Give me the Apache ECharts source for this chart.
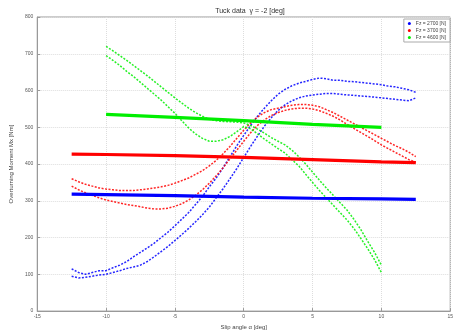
<!DOCTYPE html>
<html><head><meta charset="utf-8">
<script src="https://cdn.jsdelivr.net/npm/echarts@6/dist/echarts.min.js"></script>
<style>html,body{margin:0;padding:0;background:#fff}#c{width:456px;height:335px}</style>
</head><body><div id="c"></div>
<script>
const xTicks = [-15, -10, -5, 0, 5, 10, 15];
const yTicks = [0, 100, 200, 300, 400, 500, 600, 700, 800];
const legendNames = ['Fz = 2700 [N]', 'Fz = 3700 [N]', 'Fz = 4600 [N]'];

const alphaWide = [-12.5,-12,-11.5,-11,-10.5,-10,-9.5,-9,-8.5,-8,-7.5,-7,-6.5,-6,-5.5,-5,-4.5,-4,-3.5,-3,-2.5,-2,-1.5,-1,-0.5,0,0.5,1,1.5,2,2.5,3,3.5,4,4.5,5,5.5,6,6.5,7,7.5,8,8.5,9,9.5,10,10.5,11,11.5,12,12.5];
const alphaNarrow = [-10,-9.5,-9,-8.5,-8,-7.5,-7,-6.5,-6,-5.5,-5,-4.5,-4,-3.5,-3,-2.5,-2,-1.5,-1,-0.5,0,0.5,1,1.5,2,2.5,3,3.5,4,4.5,5,5.5,6,6.5,7,7.5,8,8.5,9,9.5,10];

// Fz = 2700 (blue) loop branches
const blueUp = [115,105,100,105,110,110,118,125,135,148,160,172,185,200,215,232,250,268,290,312,338,362,390,420,450,478,505,530,552,572,590,603,613,620,625,630,634,632,628,628,625,624,622,620,618,616,612,610,606,602,595];
const blueLo = [95,90,92,95,98,100,105,110,116,120,125,135,148,162,176,192,208,225,243,262,283,308,333,360,388,418,448,476,503,526,546,561,572,580,585,588,590,592,592,590,588,587,585,584,582,580,578,576,574,572,580];
// Fz = 3700 (red) loop branches
const redUp = [360,352,345,340,335,332,330,328,328,328,330,332,335,338,342,348,355,362,372,382,395,410,428,448,470,492,512,528,540,548,552,556,560,562,562,560,556,548,540,530,520,510,500,490,480,470,460,450,442,432,420];
const redLo = [340,330,322,315,308,302,298,294,290,287,284,280,278,278,280,285,292,302,315,330,348,368,390,414,438,462,485,505,520,532,540,546,550,552,552,550,545,538,530,520,508,497,486,475,464,452,442,432,422,412,405];
// Fz = 4600 (green) loop branches
const greenUp = [720,708,695,682,668,654,640,625,610,595,580,566,552,540,530,522,518,516,515,514,512,505,495,484,472,462,452,438,420,400,378,356,335,315,295,275,250,222,190,160,125];
const greenLo = [695,682,668,652,638,622,606,590,574,556,538,518,498,482,470,462,462,466,475,488,502,496,482,468,455,442,430,412,395,372,350,328,308,288,268,248,225,198,170,140,105];

// nearly flat series
const flatAlphaBR = [-12.5,-10,-5,0,5,10,12.5];
const blueFlat = [318,317,314,310,307,305,304];
const redFlat = [427,426,423,418,412,406,404];
const flatAlphaG = [-10,-5,0,5,10];
const greenFlat = [535,527,518,508,500];

const BLUE = '#0000ff', RED = '#ff0000', GREEN = '#00ee00';
const pairs = (xs, ys) => xs.map((x, i) => [x, ys[i]]);

function loop(name, color, xs, ys) {
  return { name, type: 'line', data: pairs(xs, ys), showSymbol: false, symbol: 'circle',
    lineStyle: { color, width: 1.5, type: [2, 1.5], opacity: 0.85 }, itemStyle: { color }, z: 2 };
}
function flat(name, color, xs, ys) {
  return { name, type: 'line', data: pairs(xs, ys), showSymbol: false, symbol: 'circle',
    lineStyle: { color, width: 3.2 }, itemStyle: { color }, z: 3 };
}

const chart = echarts.init(document.getElementById('c'));
chart.setOption({
  animation: false,
  backgroundColor: '#fff',
  title: { text: 'Tuck data  γ = -2 [deg]', left: 245, top: 3, textAlign: 'center',
    textStyle: { fontSize: 7, fontWeight: 'normal', color: '#333', fontFamily: 'Liberation Sans' } },
  legend: {
    data: legendNames.map(n => ({ name: n, icon: 'circle' })),
    right: 6, top: 19, orient: 'vertical', itemWidth: 3, itemHeight: 3, itemGap: 2,
    backgroundColor: '#fff', borderColor: '#aaa', borderWidth: 1, padding: [2, 4, 2, 4],
    textStyle: { fontSize: 5, color: '#444', fontFamily: 'Liberation Sans' }
  },
  grid: { left: 33, right: 3, top: 17, bottom: 23, containLabel: false, show: true, borderColor: '#999', borderWidth: 1 },
  xAxis: {
    type: 'value', min: -15, max: 15, interval: 5,
    name: 'Slip angle α [deg]', nameLocation: 'middle', nameGap: 10,
    nameTextStyle: { fontSize: 6, color: '#444', fontFamily: 'Liberation Sans' },
    axisLine: { onZero: false, lineStyle: { color: '#999' } },
    axisTick: { inside: true, length: 3, lineStyle: { color: '#999' } },
    axisLabel: { fontSize: 5, color: '#555', margin: 3, fontFamily: 'Liberation Sans',
      formatter: v => xTicks.includes(v) ? String(v) : '' },
    splitLine: { show: true, lineStyle: { color: '#ddd', type: 'dotted' } }
  },
  yAxis: {
    type: 'value', min: 0, max: 800, interval: 100,
    name: 'Overturning Moment Mx [Nm]', nameLocation: 'middle', nameGap: 20,
    nameTextStyle: { fontSize: 6, color: '#444', fontFamily: 'Liberation Sans' },
    axisLine: { show: true, onZero: false, lineStyle: { color: '#999' } },
    axisTick: { show: true, inside: true, length: 3, lineStyle: { color: '#999' } },
    axisLabel: { fontSize: 5, color: '#555', margin: 4, fontFamily: 'Liberation Sans',
      formatter: v => yTicks.includes(v) ? String(v) : '' },
    splitLine: { show: true, lineStyle: { color: '#ddd', type: 'dotted' } }
  },
  series: [
    loop(legendNames[0], BLUE, alphaWide, blueUp),
    loop(legendNames[0], BLUE, alphaWide, blueLo),
    loop(legendNames[1], RED, alphaWide, redUp),
    loop(legendNames[1], RED, alphaWide, redLo),
    loop(legendNames[2], GREEN, alphaNarrow, greenUp),
    loop(legendNames[2], GREEN, alphaNarrow, greenLo),
    flat(legendNames[0], BLUE, flatAlphaBR, blueFlat),
    flat(legendNames[1], RED, flatAlphaBR, redFlat),
    flat(legendNames[2], GREEN, flatAlphaG, greenFlat)
  ]
});
</script></body></html>
